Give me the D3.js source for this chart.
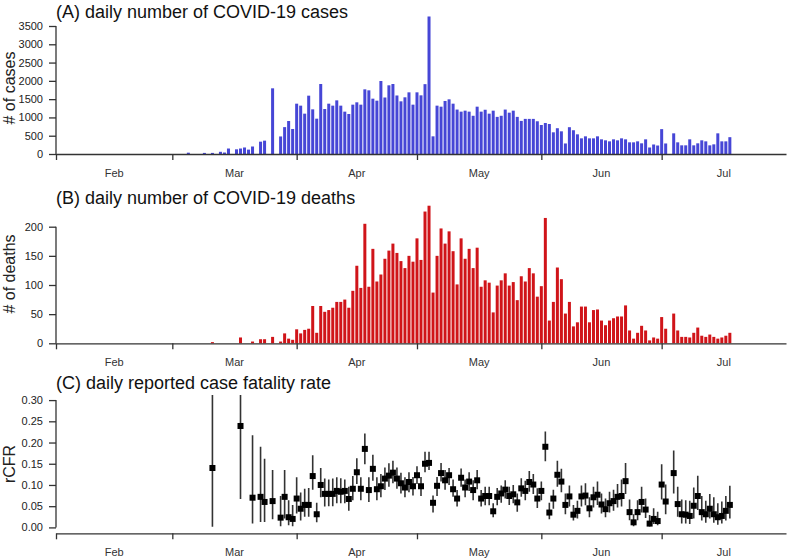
<!DOCTYPE html>
<html>
<head>
<meta charset="utf-8">
<script src="https://cdn.jsdelivr.net/npm/d3@7"></script>
<style>
  body { margin: 0; background: #fff; }
  text { font-family: "Liberation Sans", Arial, sans-serif; }
</style>
</head>
<body>
<div id="chart"></div>
<script>
// daily series, first value = 2020-03-01
var startDay = "2020-03-01";
var monthStarts = ["2020-02-01", "2020-03-01", "2020-04-01", "2020-05-01", "2020-06-01", "2020-07-01"];
var monthLabels = ["Feb", "Mar", "Apr", "May", "Jun", "Jul"];

var cases = [
    0, 0, 0, 0, 36, 0, 0, 0, 30, 0, 30, 0, 60, 40, 150, 0, 128, 150, 178, 120, 205, 0, 337, 365, 0, 1796, 0, 480, 735, 902, 684,
    1376, 1322, 1103, 1595, 1221, 966, 1914, 1230, 1376, 1322, 1467, 1322, 1158, 1094, 1349, 1413, 1349, 1768, 1741, 1513, 1458, 1996, 1545, 1878, 1914, 1600, 1440, 1550, 1686, 1349,
    1686, 1604, 1910, 3760, 483, 1322, 1294, 1450, 1495, 1376, 1215, 1158, 1185, 1158, 1045, 1294, 1158, 1210, 1103, 1185, 1015, 1045, 1215, 1130, 1185, 1015, 905, 960, 960, 960, 895,
    793, 848, 820, 593, 705, 620, 288, 733, 650, 538, 428, 483, 428, 428, 483, 401, 374, 346, 401, 374, 428, 401, 319, 319, 346, 292, 401, 178, 260, 232,
    680, 288, 0, 565, 319, 237, 237, 401, 237, 292, 374, 346, 237, 264, 565, 346, 346, 460
];

var deaths = [
    0, 0, 0, 0, 0, 0, 0, 0, 0, 0, 2, 0, 0, 0, 0, 0, 0, 10, 0, 0, 3, 0, 7, 7, 0, 11, 0, 3, 17, 8, 6,
    24, 17, 23, 25, 64, 18, 64, 54, 57, 61, 71, 71, 75, 61, 90, 133, 95, 205, 97, 162, 106, 118, 145, 159, 171, 155, 141, 129, 150, 140,
    180, 143, 226, 236, 87, 150, 197, 171, 192, 158, 101, 180, 145, 162, 129, 164, 97, 108, 104, 53, 99, 108, 120, 99, 105, 74, 115, 106, 129, 120, 80,
    98, 215, 39, 71, 130, 110, 51, 71, 29, 36, 63, 63, 36, 57, 58, 39, 31, 39, 43, 46, 46, 65, 22, 8, 18, 30, 22, 5, 10, 8,
    45, 25, 0, 51, 22, 11, 11, 10, 18, 27, 13, 11, 15, 11, 8, 10, 13, 18
];

var cfr = [
    null, null, null, null, null, null, null, null, null, null, 0.14, null, null, null, null, null, null, 0.239, null, null, 0.07, null, 0.072, 0.06, null, 0.062, null, 0.023, 0.072, 0.024, 0.02,
    0.068, 0.044, 0.053, 0.053, 0.121, 0.031, 0.10, 0.079, 0.079, 0.079, 0.086, 0.084, 0.086, 0.067, 0.091, 0.13, 0.091, 0.185, 0.088, 0.138, 0.09, 0.097, 0.115, 0.122, 0.129, 0.115, 0.104, 0.094, 0.107, 0.097,
    0.123, 0.097, 0.15, 0.152, 0.058, 0.098, 0.128, 0.111, 0.123, 0.09, 0.068, 0.117, 0.094, 0.108, 0.088, 0.111, 0.068, 0.074, 0.074, 0.038, 0.072, 0.08, 0.089, 0.074, 0.078, 0.059, 0.092, 0.086, 0.107, 0.101, 0.068,
    0.086, 0.19, 0.035, 0.068, 0.124, 0.108, 0.053, 0.073, 0.03, 0.039, 0.073, 0.075, 0.045, 0.071, 0.077, 0.054, 0.043, 0.057, 0.062, 0.072, 0.074, 0.109, 0.036, 0.012, 0.036, 0.06, 0.042, 0.009, 0.02, 0.015,
    0.101, 0.061, null, 0.128, 0.055, 0.031, 0.03, 0.027, 0.051, 0.074, 0.036, 0.031, 0.044, 0.031, 0.024, 0.027, 0.039, 0.053
];

var cfrLo = [
    null, null, null, null, null, null, null, null, null, null, 0.0015, null, null, null, null, null, null, 0.067, null, null, 0.009, null, 0.013, 0.013, null, 0.019, null, 0.003, 0.021, 0.005, 0.003,
    0.033, 0.016, 0.025, 0.025, 0.089, 0.012, 0.071, 0.049, 0.050, 0.050, 0.057, 0.057, 0.057, 0.039, 0.064, 0.102, 0.064, 0.149, 0.06, 0.11, 0.064, 0.071, 0.088, 0.096, 0.104, 0.091, 0.08, 0.071, 0.083, 0.075,
    0.102, 0.074, 0.13, 0.135, 0.035, 0.074, 0.108, 0.089, 0.1, 0.072, 0.049, 0.096, 0.071, 0.086, 0.064, 0.09, 0.049, 0.052, 0.052, 0.024, 0.052, 0.058, 0.068, 0.053, 0.057, 0.037, 0.072, 0.064, 0.084, 0.079, 0.046,
    0.064, 0.156, 0.019, 0.044, 0.096, 0.083, 0.031, 0.049, 0.016, 0.021, 0.049, 0.052, 0.024, 0.047, 0.053, 0.033, 0.024, 0.035, 0.039, 0.047, 0.049, 0.079, 0.017, 0.003, 0.017, 0.035, 0.022, 0.002, 0.008, 0.005,
    0.066, 0.031, null, 0.08, 0.025, 0.009, 0.009, 0.008, 0.021, 0.041, 0.016, 0.011, 0.021, 0.011, 0.006, 0.009, 0.016, 0.021
];

var cfrHi = [
    null, null, null, null, null, null, null, null, null, null, 0.40, null, null, null, null, null, null, 0.40, null, null, 0.217, null, 0.19, 0.162, null, 0.135, null, 0.074, 0.135, 0.064, 0.053,
    0.118, 0.082, 0.091, 0.093, 0.17, 0.058, 0.14, 0.115, 0.113, 0.115, 0.118, 0.116, 0.113, 0.096, 0.121, 0.163, 0.118, 0.221, 0.118, 0.171, 0.118, 0.126, 0.141, 0.151, 0.157, 0.141, 0.129, 0.118, 0.13, 0.119,
    0.144, 0.119, 0.178, 0.178, 0.075, 0.119, 0.152, 0.135, 0.14, 0.113, 0.088, 0.139, 0.113, 0.13, 0.111, 0.135, 0.088, 0.096, 0.096, 0.057, 0.093, 0.099, 0.111, 0.096, 0.1, 0.08, 0.116, 0.11, 0.133, 0.126, 0.092,
    0.108, 0.226, 0.058, 0.089, 0.157, 0.138, 0.08, 0.099, 0.053, 0.063, 0.099, 0.104, 0.071, 0.096, 0.108, 0.08, 0.068, 0.084, 0.089, 0.102, 0.113, 0.152, 0.066, 0.031, 0.064, 0.096, 0.068, 0.029, 0.045, 0.037,
    0.149, 0.101, null, 0.181, 0.096, 0.066, 0.064, 0.063, 0.094, 0.122, 0.074, 0.063, 0.079, 0.071, 0.057, 0.061, 0.074, 0.098
];

var caseTicks = [0, 500, 1000, 1500, 2000, 2500, 3000, 3500];
var deathTicks = [0, 50, 100, 150, 200];
var cfrTicks = [0, 0.05, 0.10, 0.15, 0.20, 0.25, 0.30];

var w = 787, h = 560;
var left = 56, right = 786;
var axisCol = "#333";

var parse = d3.utcParse("%Y-%m-%d");
var t0 = parse(startDay);
var days = cases.map(function (d, i) { return d3.utcDay.offset(t0, i); });

var svg = d3.select("#chart").append("svg")
    .attr("width", w)
    .attr("height", h);

var x = d3.scaleUtc()
    .domain([parse("2020-02-01"), parse("2020-08-01")])
    .range([left, right]);

function styleAxis(g) {
    g.selectAll("path, line").attr("stroke", axisCol).attr("stroke-width", 1.3);
    g.selectAll("text").attr("fill", "#222").attr("font-size", 11)
        .attr("font-family", "'Liberation Sans', Arial, sans-serif");
}

function xAxis(yPos) {
    var g = svg.append("g")
        .attr("transform", "translate(0," + yPos + ")")
        .call(d3.axisBottom(x)
            .tickValues(monthStarts.map(parse))
            .tickFormat("")
            .tickSize(6)
            .tickSizeOuter(0));
    styleAxis(g);
    // month names sit in the middle of each month
    monthStarts.forEach(function (m, i) {
        var a = parse(m), b = d3.utcMonth.offset(a, 1);
        svg.append("text")
            .attr("x", (x(a) + x(b)) / 2)
            .attr("y", yPos + 23)
            .attr("text-anchor", "middle")
            .attr("font-size", 11)
            .attr("fill", "#333")
            .text(monthLabels[i]);
    });
}

function yAxis(y, ticks, fmt) {
    var g = svg.append("g")
        .attr("transform", "translate(" + left + ",0)")
        .call(d3.axisLeft(y)
            .tickValues(ticks)
            .tickFormat(fmt)
            .tickSize(7)
            .tickPadding(6)
            .tickSizeOuter(0));
    g.select(".domain").remove();
    g.append("line")
        .attr("y1", y(ticks[0]))
        .attr("y2", y(ticks[ticks.length - 1]));
    styleAxis(g);
}

function title(txt, yPos) {
    svg.append("text")
        .attr("x", left)
        .attr("y", yPos)
        .attr("font-size", 18)
        .attr("fill", "#111")
        .text(txt);
}

function yLabel(txt, cy) {
    svg.append("text")
        .attr("transform", "translate(15," + cy + ") rotate(-90)")
        .attr("text-anchor", "middle")
        .attr("font-size", 16)
        .attr("fill", "#222")
        .text(txt);
}

function bars(data, y, colour) {
    svg.append("g").selectAll("rect")
        .data(data)
        .enter()
        .append("rect")
        .attr("x", function (d, i) { return x(days[i]) - 1.5; })
        .attr("y", function (d) { return y(d); })
        .attr("width", 3)
        .attr("height", function (d) { return y(0) - y(d); })
        .attr("fill", colour);
}

// (A) cases
var yA = d3.scaleLinear().domain([0, 3500]).range([154, 26]);
bars(cases, yA, "#4646d6");
yAxis(yA, caseTicks, d3.format("d"));
xAxis(154);
title("(A) daily number of COVID-19 cases", 18);
yLabel("# of cases", 88);

// (B) deaths
var yB = d3.scaleLinear().domain([0, 200]).range([343.3, 226.7]);
bars(deaths, yB, "#d01419");
yAxis(yB, deathTicks, d3.format("d"));
xAxis(343.3);
title("(B) daily number of COVID-19 deaths", 204);
yLabel("# of deaths", 274);

// (C) rCFR with intervals, clipped to the plot region
var yC = d3.scaleLinear().domain([-0.012, 0.312]).range([532.5, 395]);
svg.append("clipPath").attr("id", "clipC")
    .append("rect")
    .attr("x", left).attr("y", yC(0.312))
    .attr("width", right - left).attr("height", yC(-0.012) - yC(0.312));

var pts = cfr.map(function (v, i) {
    return { day: days[i], v: v, lo: cfrLo[i], hi: cfrHi[i] };
}).filter(function (d) { return d.v !== null; });

var gC = svg.append("g").attr("clip-path", "url(#clipC)");
gC.selectAll("line")
    .data(pts)
    .enter()
    .append("line")
    .attr("x1", function (d) { return x(d.day); })
    .attr("x2", function (d) { return x(d.day); })
    .attr("y1", function (d) { return yC(d.lo); })
    .attr("y2", function (d) { return yC(d.hi); })
    .attr("stroke", "#333")
    .attr("stroke-width", 1.6);
gC.selectAll("rect")
    .data(pts)
    .enter()
    .append("rect")
    .attr("x", function (d) { return x(d.day) - 3; })
    .attr("y", function (d) { return yC(d.v) - 3; })
    .attr("width", 6)
    .attr("height", 6)
    .attr("fill", "#000");
yAxis(yC, cfrTicks, d3.format(".2f"));
xAxis(533.3);
title("(C) daily reported case fatality rate", 389);
yLabel("rCFR", 464);
</script>
</body>
</html>
